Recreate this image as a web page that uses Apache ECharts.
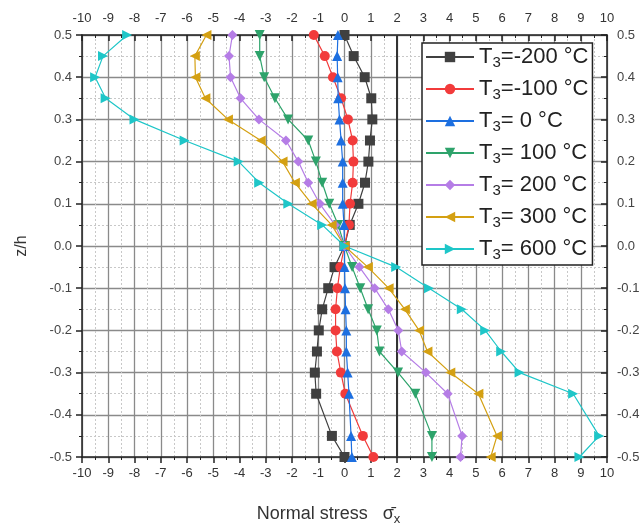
<!DOCTYPE html>
<html>
<head>
<meta charset="utf-8">
<script src="https://cdn.jsdelivr.net/npm/echarts@6/dist/echarts.min.js"></script>
<style>
  html, body { margin: 0; padding: 0; background: #fff; }
  #chart { width: 642px; height: 528px; }
</style>
</head>
<body>
<div id="chart"></div>
<script>
// through-thickness positions z/h (no point at -0.4 in the source)
const zh = [0.5, 0.45, 0.4, 0.35, 0.3, 0.25, 0.2, 0.15, 0.1, 0.05, 0,
  -0.05, -0.1, -0.15, -0.2, -0.25, -0.3, -0.35, -0.45, -0.5];

// normal stress at each z/h, one array per temperature
const tMinus200 = [0.0, 0.35, 0.77, 1.02, 1.06, 0.97, 0.91, 0.78, 0.53, 0.2, 0,
  -0.38, -0.62, -0.85, -0.98, -1.05, -1.13, -1.08, -0.48, 0.0];
const tMinus100 = [-1.17, -0.75, -0.44, -0.13, 0.13, 0.31, 0.34, 0.31, 0.21, 0.17, 0,
  -0.16, -0.27, -0.34, -0.34, -0.29, -0.14, 0.03, 0.7, 1.1];
const t0 = [-0.25, -0.28, -0.26, -0.24, -0.19, -0.13, -0.07, -0.07, -0.07, -0.02, 0,
  0.0, 0.02, 0.04, 0.07, 0.07, 0.12, 0.17, 0.25, 0.28];
const t100 = [-3.23, -3.23, -3.06, -2.65, -2.15, -1.38, -1.09, -0.85, -0.58, -0.24, 0,
  0.29, 0.6, 0.9, 1.23, 1.33, 2.04, 2.7, 3.33, 3.33];
const t200 = [-4.27, -4.4, -4.34, -3.96, -3.26, -2.23, -1.76, -1.38, -0.94, -0.36, 0,
  0.57, 1.15, 1.67, 2.05, 2.18, 3.1, 3.93, 4.48, 4.42];
const t300 = [-5.26, -5.7, -5.68, -5.3, -4.44, -3.19, -2.36, -1.89, -1.25, -0.49, 0,
  0.89, 1.68, 2.3, 2.84, 3.16, 4.03, 5.1, 5.81, 5.57];
const t600 = [-8.28, -9.2, -9.5, -9.1, -8.0, -6.09, -4.03, -3.25, -2.14, -0.85, 0,
  1.97, 3.22, 4.47, 5.36, 5.97, 6.67, 8.71, 9.7, 8.95];

const seriesNames = ["T3=-200 °C", "T3=-100 °C", "T3= 0 °C", "T3= 100 °C",
  "T3= 200 °C", "T3= 300 °C", "T3= 600 °C"];
const seriesValues = [tMinus200, tMinus100, t0, t100, t200, t300, t600];
const colors = ["#404040", "#f23b3b", "#1d6fe0", "#2ea36b", "#b57de6", "#d4a012", "#1ec6c8"];
const symbols = ["rect", "circle", "triangle", "triangle", "diamond", "triangle", "triangle"];
const rotations = [0, 0, 0, 180, 0, 90, -90];

const chart = echarts.init(document.getElementById("chart"), null, { renderer: "canvas" });

const font = "'Liberation Sans', Arial, sans-serif";

const xAxisBase = {
  type: "value",
  min: -10,
  max: 10,
  interval: 1,
  axisLine: { show: true, onZero: false, lineStyle: { color: "#222", width: 1.5 } },
  axisTick: { show: true, length: 6, lineStyle: { color: "#222", width: 1.5 } },
  minorTick: { show: true, splitNumber: 2, length: 3, lineStyle: { color: "#222", width: 1 } },
  axisLabel: { color: "#333", fontSize: 13, fontFamily: font, margin: 10 },
};

const yAxisBase = {
  type: "value",
  min: -0.5,
  max: 0.5,
  interval: 0.1,
  axisLine: { show: true, onZero: false, lineStyle: { color: "#222", width: 1.5 } },
  axisTick: { show: true, length: 6, lineStyle: { color: "#222", width: 1.5 } },
  minorTick: { show: true, splitNumber: 2, length: 3, lineStyle: { color: "#222", width: 1 } },
  axisLabel: {
    color: "#444",
    fontSize: 13,
    fontFamily: font,
    margin: 10,
    formatter: (v) => v.toFixed(1),
  },
};

const series = seriesNames.map((name, i) => ({
  name,
  type: "line",
  data: seriesValues[i].map((x, k) => [x, zh[k]]),
  symbol: symbols[i],
  symbolSize: 10,
  symbolRotate: rotations[i],
  showSymbol: true,
  color: colors[i],
  lineStyle: { color: colors[i], width: 1.2 },
  itemStyle: { color: colors[i] },
  z: 3,
  markLine: i === 0
    ? {
        silent: true,
        symbol: "none",
        label: { show: false },
        lineStyle: { color: "#333", width: 2, type: "solid" },
        data: [{ xAxis: 2 }],
        z: 1,
      }
    : undefined,
}));

chart.setOption({
  animation: false,
  backgroundColor: "#fff",
  grid: { left: 82, right: 35, top: 35, bottom: 71, outerBoundsMode: "none", containLabel: false },
  legend: {
    orient: "vertical",
    left: 422,
    top: 43,
    padding: [3, 4, 3, 3],
    itemGap: 8,
    itemWidth: 48,
    itemHeight: 13,
    backgroundColor: "#fff",
    borderColor: "#222",
    borderWidth: 1.5,
    borderRadius: 0,
    data: seriesNames,
    formatter: (name) => name.replace("T3", "T{s|3}"),
    textStyle: {
      color: "#222",
      fontSize: 22,
      fontFamily: font,
      rich: {
        s: { fontSize: 15, fontFamily: font, color: "#222", padding: [11, 0, 0, 0] },
      },
    },
  },
  xAxis: [
    {
      ...xAxisBase,
      position: "bottom",
      name: "Normal stress   σ\u0304{s|x}",
      nameLocation: "middle",
      nameGap: 46,
      nameTextStyle: {
        color: "#333",
        fontSize: 18,
        fontFamily: font,
        padding: [0, 32, 0, 0],
        rich: { s: { fontSize: 13, fontFamily: font, color: "#333", padding: [10, 0, 0, 0] } },
      },
      axisTick: { ...xAxisBase.axisTick, inside: false },
      splitLine: { show: true, lineStyle: { color: "#8a8a8a", width: 1.3 } },
      minorSplitLine: { show: true, lineStyle: { color: "#c8c8c8", width: 1, type: [2, 2] } },
    },
    {
      ...xAxisBase,
      position: "top",
      axisTick: { ...xAxisBase.axisTick, inside: true },
      splitLine: { show: false },
    },
  ],
  yAxis: [
    {
      ...yAxisBase,
      position: "left",
      name: "z/h",
      nameLocation: "middle",
      nameGap: 52,
      nameRotate: 90,
      nameTextStyle: { color: "#333", fontSize: 16, fontFamily: font },
      axisTick: { ...yAxisBase.axisTick, inside: false },
      splitLine: { show: true, lineStyle: { color: "#8a8a8a", width: 1.3 } },
      minorSplitLine: { show: true, lineStyle: { color: "#c8c8c8", width: 1, type: [2, 2] } },
    },
    {
      ...yAxisBase,
      position: "right",
      axisTick: { ...yAxisBase.axisTick, inside: true },
      splitLine: { show: false },
    },
  ],
  series,
});
</script>
</body>
</html>
